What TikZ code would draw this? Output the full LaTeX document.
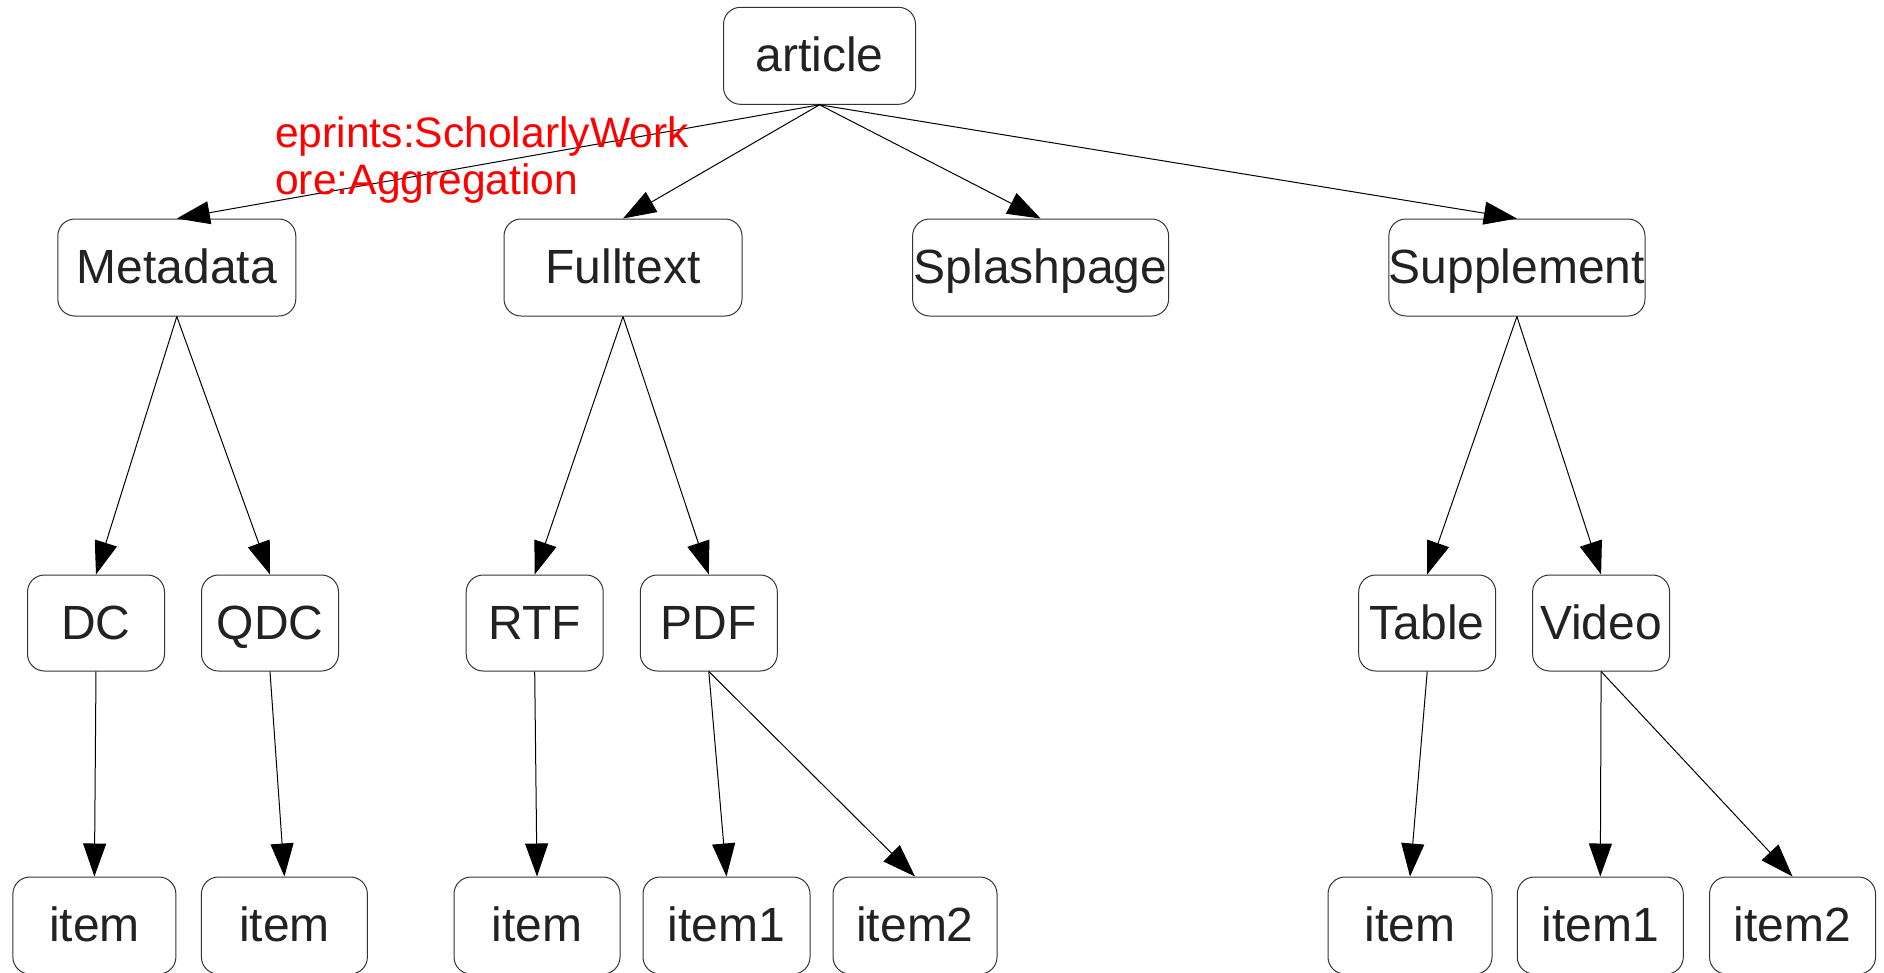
\documentclass[tikz,border=0pt]{standalone}
\usepackage{fontspec}
\setmainfont{Liberation Sans}
\usetikzlibrary{arrows.meta}
\definecolor{txtgray}{HTML}{222222}
\definecolor{boxgray}{HTML}{333333}
\tikzset{
  treebox/.style={draw=boxgray, line width=1pt, rounded corners=17pt, inner sep=0pt,
    minimum height=97pt, text height=32pt, text depth=0pt, text=txtgray,
    font=\fontsize{48}{50}\selectfont},
  arr/.style={draw=black, line width=1pt, -{Triangle[length=33pt,width=23pt]}},
  redlbl/.style={text=red, inner sep=0pt, anchor=base west, font=\fontsize{42.6}{47}\selectfont}
}
\begin{document}
\begin{tikzpicture}[x=1pt,y=-1pt]
\useasboundingbox (0,0) rectangle (1884,972);
% row 1
\node[treebox, minimum width=192pt] (article) at (819.5,55.8) {article};
% row 2
\node[treebox, minimum width=238pt] (meta) at (176.8,267.5) {Metadata};
\node[treebox, minimum width=238pt] (full) at (623,267.5) {Fulltext};
\node[treebox, minimum width=256pt] (splash) at (1040.6,267.5) {Splashpage};
\node[treebox, minimum width=256pt] (supp) at (1516.9,267.5) {Supplement};
% row 3
\node[treebox, minimum width=137pt, minimum height=96pt] (dc) at (96,623) {DC};
\node[treebox, minimum width=137pt, minimum height=96pt] (qdc) at (270,623) {QDC};
\node[treebox, minimum width=137pt, minimum height=96pt] (rtf) at (534.7,623) {RTF};
\node[treebox, minimum width=137pt, minimum height=96pt] (pdf) at (708.8,623) {PDF};
\node[treebox, minimum width=137pt, minimum height=96pt] (table) at (1427.2,623) {Table};
\node[treebox, minimum width=137pt, minimum height=96pt] (video) at (1601.1,623) {Video};
% row 4
\node[treebox, minimum width=163pt] (i1) at (94.4,925.5) {item};
\node[treebox, minimum width=166pt] (i2) at (284.4,925.5) {item};
\node[treebox, minimum width=166pt] (i3) at (537,925.5) {item};
\node[treebox, minimum width=167pt] (i4) at (726.5,925.5) {item1};
\node[treebox, minimum width=164pt] (i5) at (915,925.5) {item2};
\node[treebox, minimum width=164pt] (i6) at (1410,925.5) {item};
\node[treebox, minimum width=166pt] (i7) at (1600.3,925.5) {item1};
\node[treebox, minimum width=166pt] (i8) at (1792.5,925.5) {item2};
% edges
\draw[arr] (article.south) -- (meta.north);
\draw[arr] (article.south) -- (full.north);
\draw[arr] (article.south) -- (splash.north);
\draw[arr] (article.south) -- (supp.north);
\draw[arr] (meta.south) -- (dc.north);
\draw[arr] (meta.south) -- (qdc.north);
\draw[arr] (full.south) -- (rtf.north);
\draw[arr] (full.south) -- (pdf.north);
\draw[arr] (supp.south) -- (table.north);
\draw[arr] (supp.south) -- (video.north);
\draw[arr] (dc.south) -- (i1.north);
\draw[arr] (qdc.south) -- (i2.north);
\draw[arr] (rtf.south) -- (i3.north);
\draw[arr] (pdf.south) -- (i4.north);
\draw[arr] (pdf.south) -- (i5.north);
\draw[arr] (table.south) -- (i6.north);
\draw[arr] (video.south) -- (i7.north);
\draw[arr] (video.south) -- (i8.north);
% label
\node[redlbl] (lbl1) at (275,147.5) {eprints:ScholarlyWork};
\node[redlbl] (lbl2) at (275,194.3) {ore:Aggregation};
\end{tikzpicture}
\end{document}
